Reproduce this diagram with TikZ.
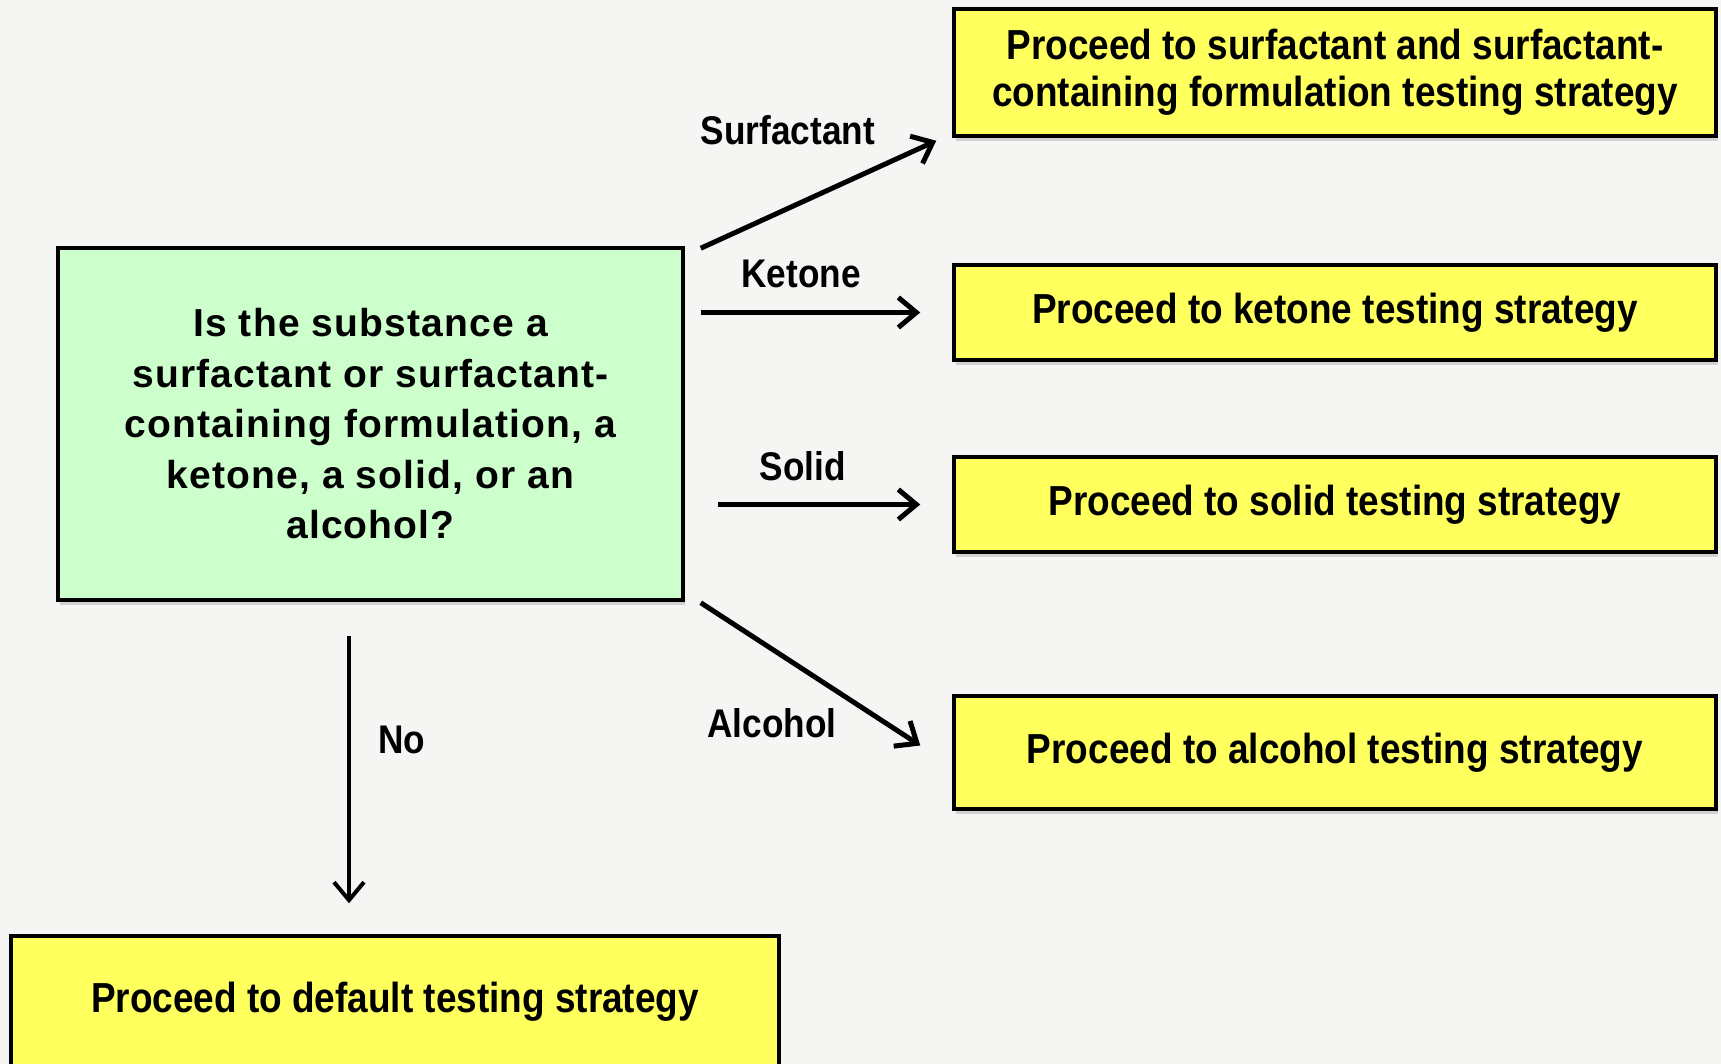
\documentclass[tikz,border=0pt]{standalone}
\usepackage{fontspec}
\setmainfont{Liberation Sans}
\newfontfamily\condfont[FakeStretch=0.88]{Liberation Sans}
\newfontfamily\qfont[LetterSpace=3]{Liberation Sans}
\usetikzlibrary{arrows.meta,shadows,calc}
\definecolor{bgc}{HTML}{F5F5F4}
\definecolor{greenbox}{HTML}{CCFFCC}
\definecolor{yellowbox}{HTML}{FFFF5E}
\tikzset{
  boxbase/.style={draw=black, line width=3.5pt, inner sep=0pt, align=center,
    drop shadow={shadow xshift=2pt, shadow yshift=-5pt, opacity=0.25, fill=black!60}},
  qbox/.style={boxbase, fill=greenbox, font=\qfont\bfseries\fontsize{39pt}{50.5pt}\selectfont},
  ybox/.style={boxbase, fill=yellowbox, font=\condfont\bfseries\fontsize{42pt}{47pt}\selectfont},
  lbl/.style={font=\condfont\bfseries\fontsize{40pt}{46pt}\selectfont, inner sep=0pt},
  arr/.style={line width=5pt, -{Straight Barb[length=18pt,width=30pt]}}
}
\begin{document}
\begin{tikzpicture}[x=1pt,y=-1pt]
\fill[bgc] (0,0) rectangle (1721,1064);
\useasboundingbox (0,0) rectangle (1721,1064);
\begin{scope}
\clip (0,0) rectangle (1721,1064);
\node[qbox, minimum width=625pt, minimum height=352pt] (g) at (370.5,424)
  {Is the substance a\\surfactant or surfactant-\\containing formulation, a\\ketone, a solid, or an\\alcohol?};
\node[ybox, minimum width=762pt, minimum height=127pt] (s1) at (1335,72.5)
  {Proceed to surfactant and surfactant-\\containing formulation testing strategy};
\node[ybox, minimum width=762pt, minimum height=95pt] (k) at (1335,312.5)
  {Proceed to ketone testing strategy};
\node[ybox, minimum width=762pt, minimum height=95pt] (so) at (1335,504.5)
  {Proceed to solid testing strategy};
\node[ybox, minimum width=762pt, minimum height=113pt] (al) at (1335,752.5)
  {Proceed to alcohol testing strategy};
\node[ybox, minimum width=768pt, minimum height=132pt] (d) at (395,1002)
  {Proceed to default testing strategy};
\end{scope}

\draw[arr] ([shift={(16pt,-2pt)}]g.north east) -- ([shift={(-16pt,-3pt)}]s1.south west);
\draw[arr] ([xshift=16pt]g.east |- k.west) -- ([xshift=-32pt]k.west);
\draw[arr] ([xshift=33pt]g.east |- so.west) -- ([xshift=-32pt]so.west);
\draw[arr] ([shift={(16pt,-1pt)}]g.south east) -- ([shift={(-32pt,7pt)}]al.west);
\coordinate (nstart) at ([shift={(-21.5pt,-34pt)}]g.south);
\coordinate (dtop) at ([yshift=31pt]d.north);
\draw[arr, line width=4pt] (nstart) -- (nstart |- dtop);

\node[lbl] (ls) at (788,130) {Surfactant};
\node[lbl] (lk) at (801,274) {Ketone};
\node[lbl] (lso) at (803,466) {Solid};
\node[lbl] (la) at (772,723) {Alcohol};
\node[lbl] (ln) at (402,740) {No};
\end{tikzpicture}
\end{document}
